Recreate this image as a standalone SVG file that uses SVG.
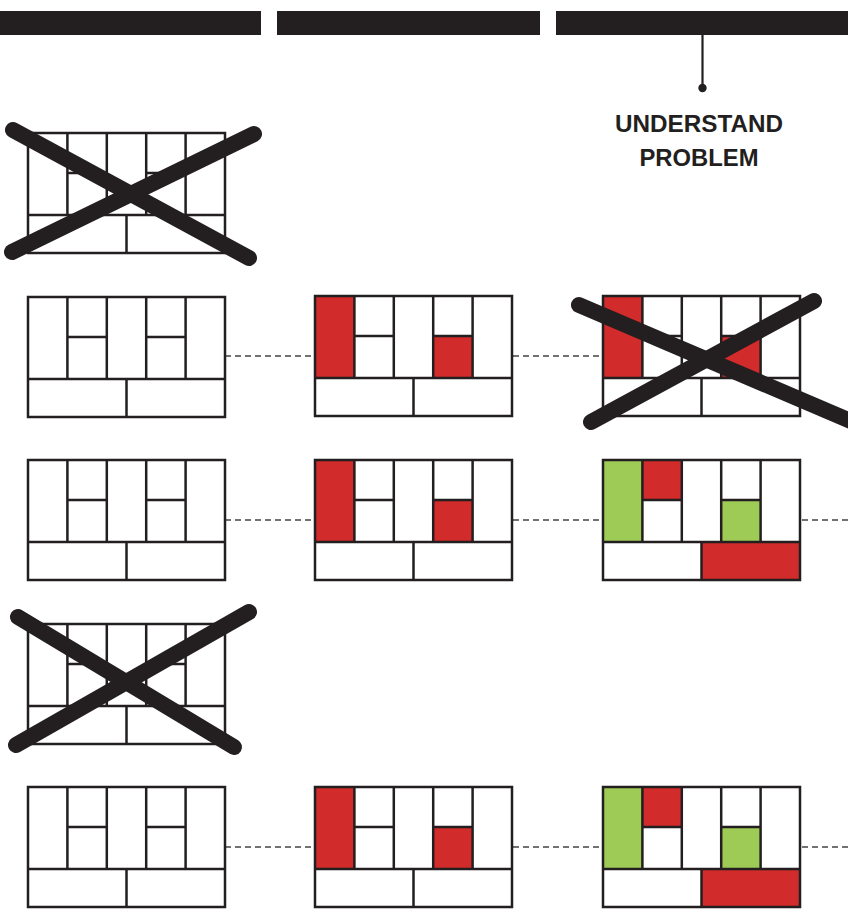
<svg xmlns="http://www.w3.org/2000/svg" xmlns:xlink="http://www.w3.org/1999/xlink" width="848" height="913" viewBox="0 0 848 913">
<style>
.bar{fill:#231f20}
.gl{fill:none;stroke:#231f20;stroke-width:2.5;stroke-linejoin:miter}
.red{fill:#d12b2b}
.green{fill:#9ecb55}
.dash{stroke:#444;stroke-width:1.6;stroke-dasharray:6 4;fill:none}
.x{stroke:#231f20;stroke-width:16;stroke-linecap:round;fill:none}
.lbl{font-family:"Liberation Sans",Arial,sans-serif;font-weight:bold;font-size:23px;fill:#231f20;text-anchor:middle}
</style>
<defs>
<g id="grid">
<rect class="gl" x="0" y="0" width="197" height="120"/>
<path class="gl" d="M39.4,0V82M78.8,0V82M118.2,0V82M157.6,0V82M0,82H197M98.5,82V120M39.4,40H78.8M118.2,40H157.6"/>
</g>
<g id="fillA">
<rect class="red" x="0" y="0" width="39.4" height="82"/>
<rect class="red" x="118.2" y="40" width="39.4" height="42"/>
</g>
<g id="fillB">
<rect class="green" x="0" y="0" width="39.4" height="82"/>
<rect class="red" x="39.4" y="0" width="39.4" height="40"/>
<rect class="green" x="118.2" y="40" width="39.4" height="42"/>
<rect class="red" x="98.5" y="82" width="98.5" height="38"/>
</g>
</defs>

<g id="headers">
<rect class="bar" x="0" y="11" width="261" height="24"/>
<rect class="bar" x="277" y="11" width="263" height="24"/>
<rect class="bar" x="556" y="11" width="292" height="24"/>
</g>

<g id="understand-problem">
<line x1="702.5" y1="35" x2="702.5" y2="88" stroke="#231f20" stroke-width="2.2"/>
<circle cx="702.5" cy="88" r="4.2" fill="#231f20"/>
<text class="lbl" x="699" y="131.5" textLength="168" lengthAdjust="spacingAndGlyphs">UNDERSTAND</text>
<text class="lbl" x="699" y="166" textLength="119" lengthAdjust="spacingAndGlyphs">PROBLEM</text>
</g>

<g id="connectors">
<line class="dash" x1="225" y1="356" x2="315" y2="356"/>
<line class="dash" x1="513" y1="356" x2="603" y2="356"/>
<line class="dash" x1="225" y1="520" x2="315" y2="520"/>
<line class="dash" x1="513" y1="520" x2="603" y2="520"/>
<line class="dash" x1="802" y1="520" x2="848" y2="520"/>
<line class="dash" x1="225" y1="847" x2="315" y2="847"/>
<line class="dash" x1="513" y1="847" x2="603" y2="847"/>
<line class="dash" x1="802" y1="847" x2="848" y2="847"/>
</g>

<g id="grid-r1-left">
<use xlink:href="#grid" transform="translate(28,133)"/>
<line class="x" x1="13" y1="130" x2="249" y2="258"/>
<line class="x" x1="12" y1="252" x2="254" y2="134"/>
</g>

<g id="grid-r2-left"><use xlink:href="#grid" transform="translate(28,297)"/></g>
<g id="grid-r2-mid"><use xlink:href="#fillA" transform="translate(315,296)"/><use xlink:href="#grid" transform="translate(315,296)"/></g>
<g id="grid-r2-right">
<use xlink:href="#fillA" transform="translate(603,296)"/><use xlink:href="#grid" transform="translate(603,296)"/>
<line class="x" x1="579" y1="305" x2="860" y2="425"/>
<line class="x" x1="591" y1="422" x2="814" y2="301"/>
</g>

<g id="grid-r3-left"><use xlink:href="#grid" transform="translate(28,460)"/></g>
<g id="grid-r3-mid"><use xlink:href="#fillA" transform="translate(315,460)"/><use xlink:href="#grid" transform="translate(315,460)"/></g>
<g id="grid-r3-right"><use xlink:href="#fillB" transform="translate(603,460)"/><use xlink:href="#grid" transform="translate(603,460)"/></g>

<g id="grid-r4-left">
<use xlink:href="#grid" transform="translate(28,624)"/>
<line class="x" x1="18" y1="617" x2="234" y2="747"/>
<line class="x" x1="16" y1="745" x2="249" y2="612"/>
</g>

<g id="grid-r5-left"><use xlink:href="#grid" transform="translate(28,787)"/></g>
<g id="grid-r5-mid"><use xlink:href="#fillA" transform="translate(315,787)"/><use xlink:href="#grid" transform="translate(315,787)"/></g>
<g id="grid-r5-right"><use xlink:href="#fillB" transform="translate(603,787)"/><use xlink:href="#grid" transform="translate(603,787)"/></g>
</svg>
